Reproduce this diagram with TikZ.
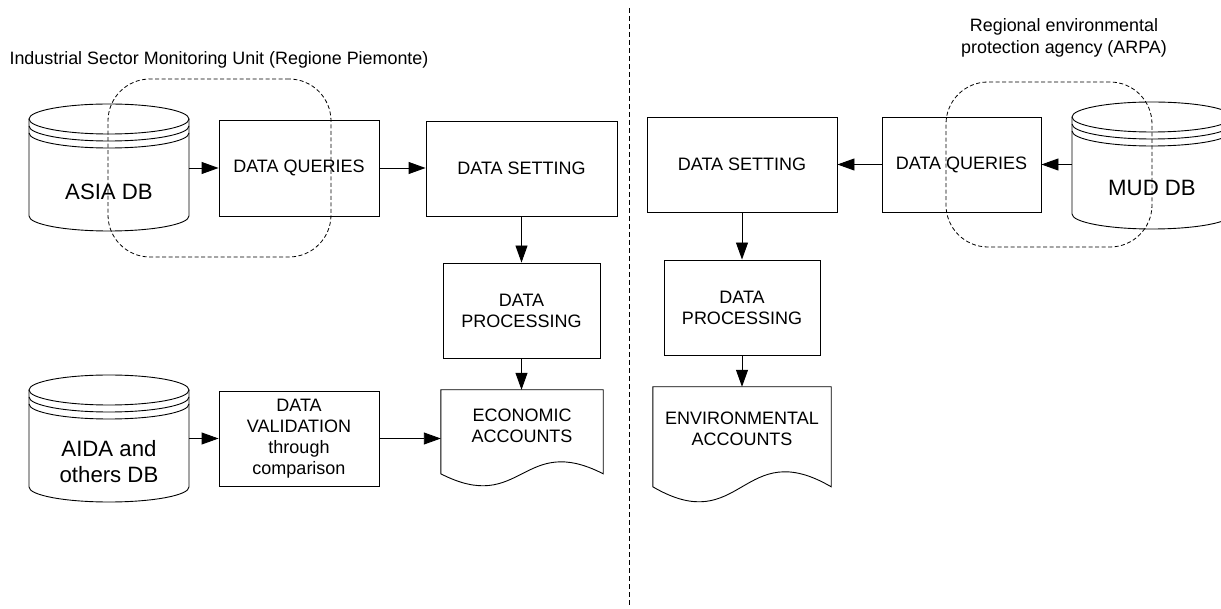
\documentclass[tikz,border=0pt]{standalone}
\usepackage{fontspec}
\setmainfont{Liberation Sans}
\usetikzlibrary{arrows.meta,calc}

\newcommand\bxfont{\fontsize{18}{21}\selectfont}
\newcommand\dbfont{\fontsize{22.2}{26.5}\selectfont}
\newcommand\ttlfont{\fontsize{17.9}{21.5}\selectfont}

\tikzset{
  outline/.style={line width=0.9pt, draw=black},
  stepbox/.style={outline, rectangle, inner sep=0pt, align=center, font=\bxfont},
  doclabel/.style={rectangle, inner sep=0pt, align=center, font=\bxfont},
  dblabel/.style={rectangle, inner sep=0pt, align=center, font=\dbfont, minimum width=160pt},
  grouping/.style={draw=black, line width=0.8pt, dash pattern=on 4pt off 2.5pt,
                   rounded corners=42pt, rectangle, inner sep=0pt},
  divider/.style={draw=black, line width=0.9pt, dash pattern=on 5pt off 3pt},
  flow/.style={line width=0.9pt, -{Triangle[length=17pt,width=12pt]}},
  heading/.style={font=\ttlfont, align=center, inner sep=0pt}
}

% database cylinder: left x, top y (160 wide, 127 tall)
\newcommand\dbcyl[2]{%
  \draw[outline] (#1,#2+15) -- (#1,#2+112)
    arc[start angle=180, end angle=0, x radius=80, y radius=15] -- (#1+160,#2+15);
  \draw[outline] (#1+80,#2+15) ellipse [x radius=80, y radius=15];
  \draw[outline] (#1,#2+22) arc[start angle=180, end angle=0, x radius=80, y radius=15];
  \draw[outline] (#1,#2+29) arc[start angle=180, end angle=0, x radius=80, y radius=15];
}

\begin{document}
\begin{tikzpicture}[x=1pt, y=-1pt]
\useasboundingbox (0,0) rectangle (1221,609);
\clip (0,0) rectangle (1221,609);

% ---------- headings ----------
\node[heading, anchor=base] (hleft) at (219,65)
  {Industrial Sector Monitoring Unit (Regione Piemonte)};
\node[heading] (hright) at (1064,38)
  {Regional environmental\\protection agency (ARPA)};

% ---------- divider ----------
\coordinate (divtop) at (629,8);
\coordinate (divbot) at (629,607);
\draw[divider] (divtop) -- (divbot);

% ---------- left side ----------
\dbcyl{29}{104}
\node[dblabel] (asia) at (109,192) {ASIA DB};
\dbcyl{29}{375}
\node[dblabel] (aida) at (109,461.5) {AIDA and\\others DB};

\node[stepbox, minimum width=160pt, minimum height=96pt] (dq) at (299,168) {DATA QUERIES};
\node[stepbox, minimum width=191pt, minimum height=95pt] (ds) at (521.5,168.5) {DATA SETTING};
\node[stepbox, minimum width=157pt, minimum height=95pt] (dp) at (521.5,310.5) {DATA\\PROCESSING};
\node[stepbox, minimum width=160pt, minimum height=95pt] (dv) at (299,438.5)
  {DATA\\VALIDATION\\through\\comparison};

\node[doclabel, minimum width=162pt, minimum height=71pt] (econ) at (522,425.5)
  {ECONOMIC\\ACCOUNTS};
\draw[outline] (econ.north west) -- (econ.north east) -- ++(0,84)
  .. controls ++(-81,-41.5) and ++(81,41.5) .. ($(econ.north west)+(0,84)$) -- cycle;

\draw[flow] (dq.west -| asia.east) -- (dq.west);
\draw[flow] (dq.east) -- (ds.west |- dq.east);
\draw[flow] (ds.south) -- (dp.north);
\draw[flow] (dp.south) -- (dp.south |- econ.north);
\draw[flow] (dv.west -| aida.east) -- (dv.west);
\draw[flow] (dv.east) -- (econ.west |- dv.east);

\node[grouping, minimum width=223pt, minimum height=178pt] (grpleft) at (219.5,168) {};

% ---------- right side ----------
\dbcyl{1072}{102}
\node[dblabel] (mud) at (1152,188) {MUD DB};

\node[stepbox, minimum width=190pt, minimum height=95pt] (ds2) at (742,164.5) {DATA SETTING};
\node[stepbox, minimum width=159pt, minimum height=95pt] (dq2) at (961.5,164.5) {DATA QUERIES};
\node[stepbox, minimum width=156pt, minimum height=95pt] (dp2) at (742,307.5) {DATA\\PROCESSING};

\node[doclabel, minimum width=178pt, minimum height=84pt] (env) at (742,429)
  {ENVIRONMENTAL\\ACCOUNTS};
\draw[outline] (env.north west) -- (env.north east) -- ++(0,100)
  .. controls ++(-89,-52) and ++(89,52) .. ($(env.north west)+(0,100)$) -- cycle;

\draw[flow] (dq2.east -| mud.west) -- (dq2.east);
\draw[flow] (dq2.west) -- (ds2.east |- dq2.west);
\draw[flow] (ds2.south) -- (dp2.north);
\draw[flow] (dp2.south) -- (dp2.south |- env.north);

\node[grouping, minimum width=206pt, minimum height=165pt] (grpright) at (1049,164.5) {};
\end{tikzpicture}
\end{document}
